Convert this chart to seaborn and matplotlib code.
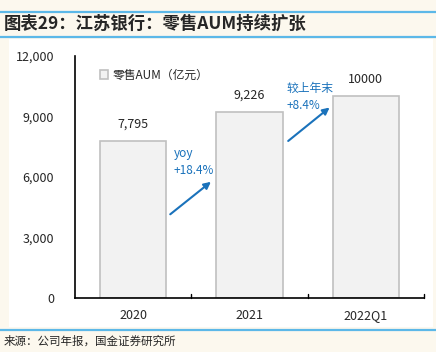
import pandas as pd
import seaborn as sns
import matplotlib.pyplot as plt
from matplotlib.patches import Rectangle
from matplotlib.lines import Line2D

sns.set_style("white")
plt.rcParams['font.family'] = ['Noto Sans CJK SC', 'DejaVu Sans']

# %% Data

periods = ['2020', '2021', '2022Q1']
aum = [7795, 9226, 10000]
bar_labels = ['7,795', '9,226', '10000']
yticks = [0, 3000, 6000, 9000, 12000]
ytick_labels = ['0', '3,000', '6,000', '9,000', '12,000']
growth_notes = ['yoy\n+18.4%', '较上年末\n+8.4%']

data = pd.DataFrame({'Period': periods, 'AUM': aum})

# %% Plot

bg = '#fcf8ee'
blue_line = '#5cb8e8'
note_blue = '#1a72bb'

fig = plt.figure(figsize=(4.36, 3.52), dpi=100, facecolor=bg)
fig.add_artist(Rectangle((9 / 436, 1 - 327 / 352), 424 / 436, 288 / 352,
                         transform=fig.transFigure, facecolor='white',
                         edgecolor='none', zorder=-5))
for y in [12, 37, 330]:
    fig.add_artist(Line2D([0, 1], [1 - y / 352] * 2, transform=fig.transFigure,
                          color=blue_line, lw=1.6))

fig.text(4 / 436, 1 - 24 / 352, '图表29：江苏银行：零售AUM持续扩张', fontsize=12.5,
         fontweight='bold', style='italic', va='center', ha='left')
fig.text(4 / 436, 1 - 341 / 352, '来源：公司年报，国金证券研究所', fontsize=8.3,
         va='center', ha='left')

ax = fig.add_axes([75 / 436, 1 - 298 / 352, 349 / 436, (298 - 55.7) / 352])
ax.set_zorder(1)
ax.set_facecolor('white')
sns.barplot(data=data, x='Period', y='AUM', ax=ax, width=0.57,
            color='#f2f2f2', edgecolor='#c0c0c0', linewidth=1.2,
            saturation=1, label='零售AUM（亿元）')

for i, (v, lab) in enumerate(zip(aum, bar_labels)):
    ax.text(i, v + 500, lab, ha='center', va='bottom', fontsize=9)

ax.set_xlim(-0.5, 2.5)
ax.set_ylim(0, 12000)
ax.set_yticks(yticks)
ax.set_yticklabels(ytick_labels, fontsize=9)
ax.set_xticks([0, 1, 2])
ax.set_xticklabels(periods, fontsize=9)
ax.set_xlabel('')
ax.set_ylabel('')
ax.tick_params(axis='x', length=0, pad=8)
ax.tick_params(axis='y', length=3, direction='out', pad=12)
for b in [0.5, 1.5, 2.5]:
    ax.plot([b, b], [0, 200], color='black', lw=1, clip_on=False)

for s in ['top', 'right']:
    ax.spines[s].set_visible(False)
for s in ['left', 'bottom']:
    ax.spines[s].set_color('black')
    ax.spines[s].set_linewidth(1.2)

# growth arrows
ax.annotate('', xy=(0.687, 5840), xytext=(0.30, 4060),
            arrowprops=dict(arrowstyle='-|>', color=note_blue, lw=1.5, mutation_scale=10))
ax.annotate('', xy=(1.707, 9520), xytext=(1.314, 7690),
            arrowprops=dict(arrowstyle='-|>', color=note_blue, lw=1.5, mutation_scale=10))
ax.text(0.351, 7500, growth_notes[0], color=note_blue, fontsize=8.5,
        va='top', ha='left', linespacing=1.4)
ax.text(1.314, 10700, growth_notes[1], color=note_blue, fontsize=8.5,
        va='top', ha='left', linespacing=1.4)

leg = ax.legend(loc='upper left', bbox_to_anchor=(0.04, 0.99), frameon=False,
                fontsize=8.5, handlelength=0.7, handleheight=0.7, handletextpad=0.4)

plt.savefig('out.png', dpi=100, facecolor=bg)
